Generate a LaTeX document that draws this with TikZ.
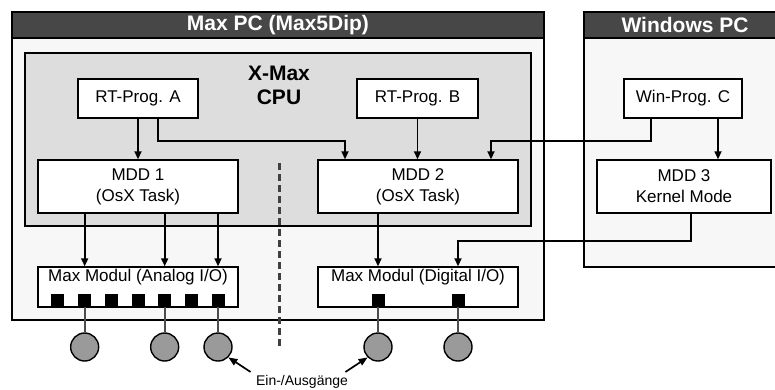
\documentclass[tikz,border=0pt]{standalone}
\usepackage{fontspec}
\setmainfont{Liberation Sans}
\usetikzlibrary{arrows.meta, calc}

\definecolor{headgray}{HTML}{474747}
\definecolor{cpugray}{HTML}{DDDDDD}
\definecolor{iogray}{HTML}{9A9A9A}

\begin{document}
\begin{tikzpicture}[x=1pt, y=-1pt,
    pcbox/.style={draw, line width=1.5pt, fill=white!97!black, inner sep=0pt},
    pchead/.style={draw, line width=1.5pt, fill=headgray, text=white, minimum height=26pt, inner sep=0pt, font=\fontsize{21}{23}\selectfont\bfseries},
    prog/.style={draw, line width=1.4pt, fill=white, minimum height=39pt, inner sep=0pt, font=\fontsize{17}{19}\selectfont},
    mdd/.style={draw, line width=1.4pt, fill=white, minimum width=200pt, minimum height=53pt, inner sep=0pt, align=center, font=\fontsize{17}{21}\selectfont},
    modul/.style={draw, line width=1.4pt, fill=white, minimum width=200pt, minimum height=40pt, inner sep=0pt},
    port/.style={fill=black, minimum size=13pt, inner sep=0pt},
    io/.style={circle, draw, line width=1.4pt, fill=iogray, minimum size=28pt, inner sep=0pt},
    arr/.style={-{Triangle[length=8pt, width=7pt]}, line width=1.7pt},
    ptr/.style={-{Triangle[length=9pt, width=7pt]}, line width=1.7pt},
    wire/.style={line width=2pt, black!70}]
  \useasboundingbox (0,0) rectangle (775,389);

  % Rechner
  \node[pcbox, minimum width=532pt, minimum height=308pt] (maxpc) at (278,166) {};
  \node[pchead, minimum width=532pt, anchor=north] (maxhead) at (maxpc.north) {Max PC (Max5Dip)};
  \node[pcbox, minimum width=202pt, minimum height=255pt] (winpc) at (685,139.5) {};
  \node[pchead, minimum width=202pt, anchor=north] (winhead) at (winpc.north) {Windows PC};

  % X-Max CPU
  \node[draw, line width=1.5pt, fill=cpugray, minimum width=506pt, minimum height=173pt] (cpu) at (278,139.5) {};
  \node[font=\fontsize{21}{24}\selectfont\bfseries, align=center] (cputxt) at (279,85) {X-Max\\CPU};

  % Programme und Treiber
  \node[prog, minimum width=120pt] (rtA) at (138,98.5) {RT-Prog. A};
  \node[prog, minimum width=121pt] (rtB) at (417.5,98.5) {RT-Prog. B};
  \node[prog, minimum width=118pt] (winC) at (683,98.5) {Win-Prog. C};
  \node[mdd] (mdd1) at (138,186.5) {MDD 1\\(OsX Task)};
  \node[mdd] (mdd2) at (418,186.5) {MDD 2\\(OsX Task)};
  \node[mdd, minimum width=174pt] (mdd3) at (684,186.5) {MDD 3\\Kernel Mode};

  % Module
  \node[modul, label={[font=\fontsize{17}{19}\selectfont, anchor=center, yshift=-11pt]north:Max Modul (Analog I/O)}] (analog) at (138,287) {};
  \node[modul, label={[font=\fontsize{17}{19}\selectfont, anchor=center, yshift=-11pt]north:Max Modul (Digital I/O)}] (digital) at (418,287) {};
  \foreach \i in {1,...,7}
    \node[port] (a\i) at ($(analog.south)+({(\i-4)*26.67},-7.5)$) {};
  \node[port] (d1) at ($(digital.south)+(-40,-7.5)$) {};
  \node[port] (d2) at ($(digital.south)+(40,-7.5)$) {};

  % Trennlinie
  \draw[line width=3pt, black!75, dash pattern=on 7pt off 4pt] (279,163) -- (279,347);

  % Ein-/Ausgaenge
  \node[io] (io1) at (a2 |- 0,347) {};
  \node[io] (io2) at (a5 |- 0,347) {};
  \node[io] (io3) at (a7 |- 0,347) {};
  \node[io] (io4) at (d1 |- 0,347) {};
  \node[io] (io5) at (d2 |- 0,347) {};
  \draw[wire] (a2) -- (io1);
  \draw[wire] (a5) -- (io2);
  \draw[wire] (a7) -- (io3);
  \draw[wire] (d1) -- (io4);
  \draw[wire] (d2) -- (io5);
  \node[font=\fontsize{14}{16}\selectfont] (iotxt) at (302,382) {Ein-/Ausgänge};
  \draw[ptr] ([xshift=-2pt]iotxt.north west) -- (io3.-45);
  \draw[ptr] ([xshift=-6pt]iotxt.north east) -- (io4.225);

  % Verbindungen
  \draw[arr] (rtA) -- (mdd1);
  \draw[arr] ([xshift=20pt]rtA.south) -- ++(0,22) -| ([xshift=-73pt]mdd2.north);
  \draw[arr] (rtB.south) -- (rtB.south |- mdd2.north);
  \draw[arr] ([xshift=-32pt]winC.south) -- ++(0,22) -| ([xshift=73pt]mdd2.north);
  \coordinate (cdown) at ([xshift=35pt]winC.south);
  \draw[arr] (cdown) -- (cdown |- mdd3.north);
  \draw[arr] (mdd1.south -| a2) -- (a2 |- analog.north);
  \draw[arr] (mdd1.south -| a5) -- (a5 |- analog.north);
  \draw[arr] (mdd1.south -| a7) -- (a7 |- analog.north);
  \draw[arr] (mdd2.south -| d1) -- (d1 |- digital.north);
  \draw[arr] ([xshift=7pt]mdd3.south) -- ++(0,27) -| (d2 |- digital.north);
\end{tikzpicture}
\end{document}
